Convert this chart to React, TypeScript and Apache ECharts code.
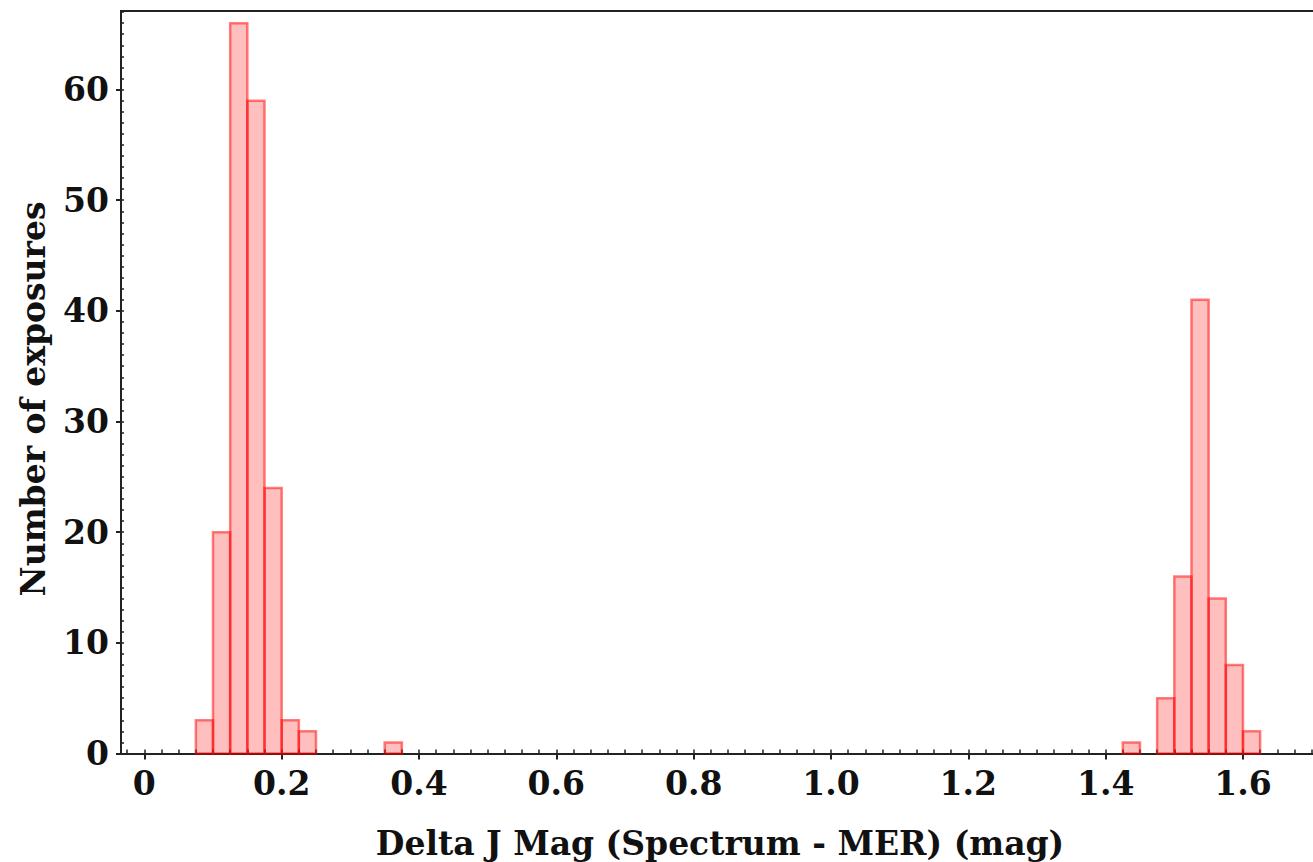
import React, { useEffect, useRef } from "react";
import * as echarts from "echarts";

const binStarts = [0.075, 0.1, 0.125, 0.15, 0.175, 0.2, 0.225, 0.35, 1.425, 1.475, 1.5, 1.525, 1.55, 1.575, 1.6];
const counts = [3, 20, 66, 59, 24, 3, 2, 1, 1, 5, 16, 41, 14, 8, 2];
const binWidth = 0.025;
const xMajorTicks = [0, 0.2, 0.4, 0.6, 0.8, 1.0, 1.2, 1.4, 1.6];
const yMajorTicks = [0, 10, 20, 30, 40, 50, 60];
const xMinorTicks: number[] = [];
for (let i = -1; i <= 68; i++) xMinorTicks.push(+(i * 0.025).toFixed(3));
const yMinorTicks: number[] = [];
for (let i = 0; i <= 67; i++) yMinorTicks.push(i);
const xTitle = "Delta J Mag (Spectrum - MER) (mag)";
const yTitle = "Number of exposures";

const X_MIN = -0.034;
const X_MAX = 1.702;
const Y_MAX = 67.1;
const FONT = "DejaVu Serif";

export default function App() {
  const ref = useRef<HTMLDivElement>(null);
  useEffect(() => {
    document.body.style.margin = "0";
    document.body.style.overflow = "hidden";
    const chart = echarts.init(ref.current!, undefined, { renderer: "svg" });
    const spine = { show: true, onZero: false, lineStyle: { color: "#222", width: 2 } };
    const labelStyle = { fontFamily: FONT, fontWeight: "bold" as const, fontSize: 33, color: "#111" };
    chart.setOption({
      animation: false,
      backgroundColor: "#fff",
      grid: { left: 121, right: 0, top: 11, bottom: 108.5, outerBoundsMode: "none", containLabel: false },
      xAxis: [
        {
          type: "value", position: "bottom", min: X_MIN, max: X_MAX,
          axisLine: spine,
          axisTick: { show: true, customValues: xMajorTicks, length: 6, inside: false, lineStyle: { color: "#222", width: 2 } },
          axisLabel: {
            ...labelStyle, customValues: xMajorTicks, margin: 13,
            formatter: (v: number) => (v === 0 ? "0" : v.toFixed(1)),
          },
          splitLine: { show: false },
        },
        {
          type: "value", position: "bottom", min: X_MIN, max: X_MAX,
          axisLine: { show: false, onZero: false },
          axisTick: { show: true, customValues: xMinorTicks, length: 4, inside: true, lineStyle: { color: "#222", width: 1.5 } },
          axisLabel: { show: false },
          splitLine: { show: false },
        },
        {
          type: "value", position: "top", min: X_MIN, max: X_MAX,
          axisLine: spine,
          axisTick: { show: false },
          axisLabel: { show: false },
          splitLine: { show: false },
        },
      ],
      yAxis: [
        {
          type: "value", position: "left", min: 0, max: Y_MAX,
          axisLine: spine,
          axisTick: { show: true, customValues: yMajorTicks, length: 5, inside: false, lineStyle: { color: "#222", width: 2 } },
          axisLabel: { ...labelStyle, customValues: yMajorTicks, margin: 12 },
          splitLine: { show: false },
        },
        {
          type: "value", position: "left", min: 0, max: Y_MAX,
          axisLine: { show: false, onZero: false },
          axisTick: { show: true, customValues: yMinorTicks, length: 3, inside: true, lineStyle: { color: "#222", width: 1.5 } },
          axisLabel: { show: false },
          splitLine: { show: false },
        },
      ],
      series: [
        {
          type: "custom",
          xAxisIndex: 0,
          yAxisIndex: 0,
          encode: { x: 0, y: 1 },
          data: binStarts.map((b, i) => [b, counts[i]]),
          renderItem: (params: any, api: any) => {
            const x0 = api.value(0);
            const c = api.value(1);
            const p0 = api.coord([x0, 0]);
            const p1 = api.coord([x0 + binWidth, c]);
            return {
              type: "rect",
              shape: { x: p0[0], y: p1[1], width: p1[0] - p0[0], height: p0[1] - p1[1] },
              style: { fill: "rgba(255,0,0,0.25)", stroke: "rgba(255,0,0,0.5)", lineWidth: 2.5 },
            };
          },
        },
      ],
      graphic: [
        {
          type: "text", x: 720, y: 843,
          style: { text: xTitle, fontFamily: FONT, fontWeight: "bold", fontSize: 33, fill: "#111", align: "center", verticalAlign: "middle" },
        },
        {
          type: "text", x: 33, y: 399, rotation: Math.PI / 2,
          style: { text: yTitle, fontFamily: FONT, fontWeight: "bold", fontSize: 33, fill: "#111", align: "center", verticalAlign: "middle" },
        },
      ],
    });
    return () => chart.dispose();
  }, []);
  return <div ref={ref} style={{ width: 1313, height: 862 }} />;
}
